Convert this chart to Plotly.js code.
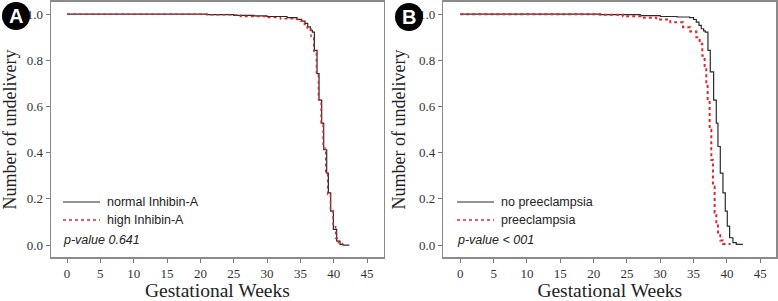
<!DOCTYPE html>
<html>
<head>
<meta charset="utf-8">
<script src="https://cdn.plot.ly/plotly-3.0.1.min.js"></script>
<style>
  html, body { margin: 0; padding: 0; background: #fff; }
  #chart { width: 778px; height: 301px; }
</style>
</head>
<body>
<div id="chart"></div>
<script>
// Panel A: Inhibin-A groups (Kaplan-Meier)
let weeksNormal = [0, 21, 25, 28, 30, 33, 34.5, 35.2, 35.7, 36.1, 36.5, 36.8, 37.1, 37.5, 37.8, 38.2, 38.5, 38.95, 39.2, 39.55, 39.95, 40.45, 40.95, 41.4, 42.35];
let survNormal  = [1.0, 0.998, 0.995, 0.993, 0.99, 0.985, 0.978, 0.97, 0.96, 0.945, 0.93, 0.922, 0.843, 0.743, 0.628, 0.528, 0.413, 0.312, 0.226, 0.147, 0.068, 0.017, 0.003, 0.0, 0.0];

let weeksHigh = [0, 21, 26, 30, 32, 34, 35, 35.6, 36, 36.6, 37.0, 37.4, 37.7, 38.1, 38.4, 38.8, 39.1, 39.5, 39.9, 40.3, 40.7, 41.3];
let survHigh  = [1.0, 0.997, 0.99, 0.985, 0.98, 0.977, 0.97, 0.955, 0.94, 0.9, 0.84, 0.74, 0.63, 0.53, 0.42, 0.31, 0.22, 0.15, 0.08, 0.03, 0.01, 0.0];

// Panel B: preeclampsia groups
let weeksNoPE = [0, 21, 27, 30, 32.5, 34.4, 35.0, 35.4, 35.8, 36.15, 36.5, 36.75, 37.15, 37.5, 38.0, 38.4, 38.65, 39.0, 39.4, 39.75, 40.05, 40.4, 40.9, 41.4, 42.3];
let survNoPE  = [1.0, 0.998, 0.994, 0.99, 0.988, 0.985, 0.977, 0.966, 0.952, 0.937, 0.928, 0.922, 0.843, 0.75, 0.628, 0.528, 0.427, 0.312, 0.226, 0.147, 0.082, 0.032, 0.011, 0.003, 0.0];

let weeksPE = [0, 21, 24.4, 27, 29.4, 31.5, 33.4, 34.5, 35.4, 35.9, 36.3, 36.65, 36.9, 37.1, 37.4, 37.65, 37.9, 38.15, 38.4, 38.65, 39.0, 39.4, 40.4];
let survPE  = [1.0, 0.998, 0.991, 0.985, 0.977, 0.965, 0.944, 0.925, 0.9, 0.872, 0.82, 0.77, 0.7, 0.628, 0.5, 0.369, 0.254, 0.14, 0.09, 0.055, 0.02, 0.005, 0.0];

let xTicks = [0, 5, 10, 15, 20, 25, 30, 35, 40, 45];
let yTicks = [0, 0.2, 0.4, 0.6, 0.8, 1.0];

let black = '#2b2b2b';
let red = '#e3262b';
let serif = 'Liberation Serif, Times New Roman, serif';
let sans = 'Liberation Sans, Arial, sans-serif';

let traces = [
  { x: weeksNormal, y: survNormal, mode: 'lines', line: { shape: 'hv', color: black, width: 1.2 },
    name: 'normal Inhibin-A', xaxis: 'x', yaxis: 'y' },
  { x: weeksHigh, y: survHigh, mode: 'lines', line: { shape: 'hv', color: red, width: 1.4, dash: 'dot' },
    name: 'high Inhibin-A', xaxis: 'x', yaxis: 'y' },
  { x: weeksNoPE, y: survNoPE, mode: 'lines', line: { shape: 'hv', color: black, width: 1.2 },
    name: 'no preeclampsia', xaxis: 'x2', yaxis: 'y2' },
  { x: weeksPE, y: survPE, mode: 'lines', line: { shape: 'hv', color: red, width: 2, dash: 'dot' },
    name: 'preeclampsia', xaxis: 'x2', yaxis: 'y2' }
];

function xAxis(domain, anchor) {
  return {
    domain: domain, anchor: anchor, range: [-2.4, 47.5],
    tickvals: xTicks, ticks: 'outside', ticklen: 4, tickcolor: '#777',
    showline: true, mirror: true, linecolor: '#8a8a8a', linewidth: 1.5,
    showgrid: false, zeroline: false,
    tickfont: { family: serif, size: 13, color: '#333' },
    title: { text: 'Gestational Weeks', font: { family: serif, size: 19.5, color: '#222' }, standoff: 11 }
  };
}
function yAxis(anchor) {
  return {
    domain: [0.145, 0.995], anchor: anchor, range: [-0.053, 1.055],
    tickvals: yTicks, tickformat: '.1f', ticks: 'outside', ticklen: 4, tickcolor: '#777',
    showline: true, mirror: true, linecolor: '#8a8a8a', linewidth: 1.5,
    showgrid: false, zeroline: false,
    tickfont: { family: serif, size: 13, color: '#333' },
    title: { text: 'Number of undelivery', font: { family: serif, size: 18, color: '#222' }, standoff: 8 }
  };
}

// hand-drawn legend (sample line + label) for each panel
function legendLine(x0, y, dash, color, width) {
  return { type: 'line', xref: 'paper', yref: 'paper', x0: x0 / 778, x1: (x0 + 37) / 778,
    y0: 1 - y / 301, y1: 1 - y / 301, line: { color: color, width: width, dash: dash } };
}
function label(text, x, y) {
  return { text: text, xref: 'paper', yref: 'paper', x: x / 778, y: 1 - y / 301,
    xanchor: 'left', yanchor: 'middle', showarrow: false, font: { family: sans, size: 12.5, color: '#222' } };
}
function badge(letter, cx, cy) {
  return { text: '<b>' + letter + '</b>', xref: 'paper', yref: 'paper', x: cx / 778, y: 1 - cy / 301,
    xanchor: 'center', yanchor: 'middle', showarrow: false, font: { family: sans, size: 20, color: '#fff' } };
}
function circle(cx, cy) {
  return { type: 'circle', xref: 'paper', yref: 'paper', x0: (cx - 14) / 778, x1: (cx + 14) / 778,
    y0: 1 - (cy + 14) / 301, y1: 1 - (cy - 14) / 301, fillcolor: '#000', line: { width: 0 } };
}

let layout = {
  width: 778, height: 301,
  margin: { l: 0, r: 0, t: 0, b: 0 },
  paper_bgcolor: '#fff', plot_bgcolor: '#fff',
  xaxis: xAxis([0.0656, 0.4932], 'y'),
  yaxis: yAxis('x'),
  xaxis2: Object.assign(xAxis([0.5698, 0.9978], 'y2'), { range: [-2.55, 47.4] }),
  yaxis2: yAxis('x2'),
  showlegend: false,
  shapes: [
    circle(16, 16), circle(409, 17),
    legendLine(63, 202, 'solid', black, 1.2), legendLine(63, 220, 'dot', red, 1.4),
    legendLine(457, 202, 'solid', black, 1.2), legendLine(457, 220, 'dot', red, 1.6)
  ],
  annotations: [
    badge('A', 16, 16), badge('B', 409, 17),
    label(traces[0].name, 105, 202), label(traces[1].name, 105, 220),
    label(traces[2].name, 499, 202), label(traces[3].name, 499, 220),
    label('<i>p-value 0.641</i>', 61, 240),
    label('<i>p-value < 001</i>', 455, 240)
  ]
};

Plotly.newPlot('chart', traces, layout, { displayModeBar: false, staticPlot: true });
</script>
</body>
</html>
